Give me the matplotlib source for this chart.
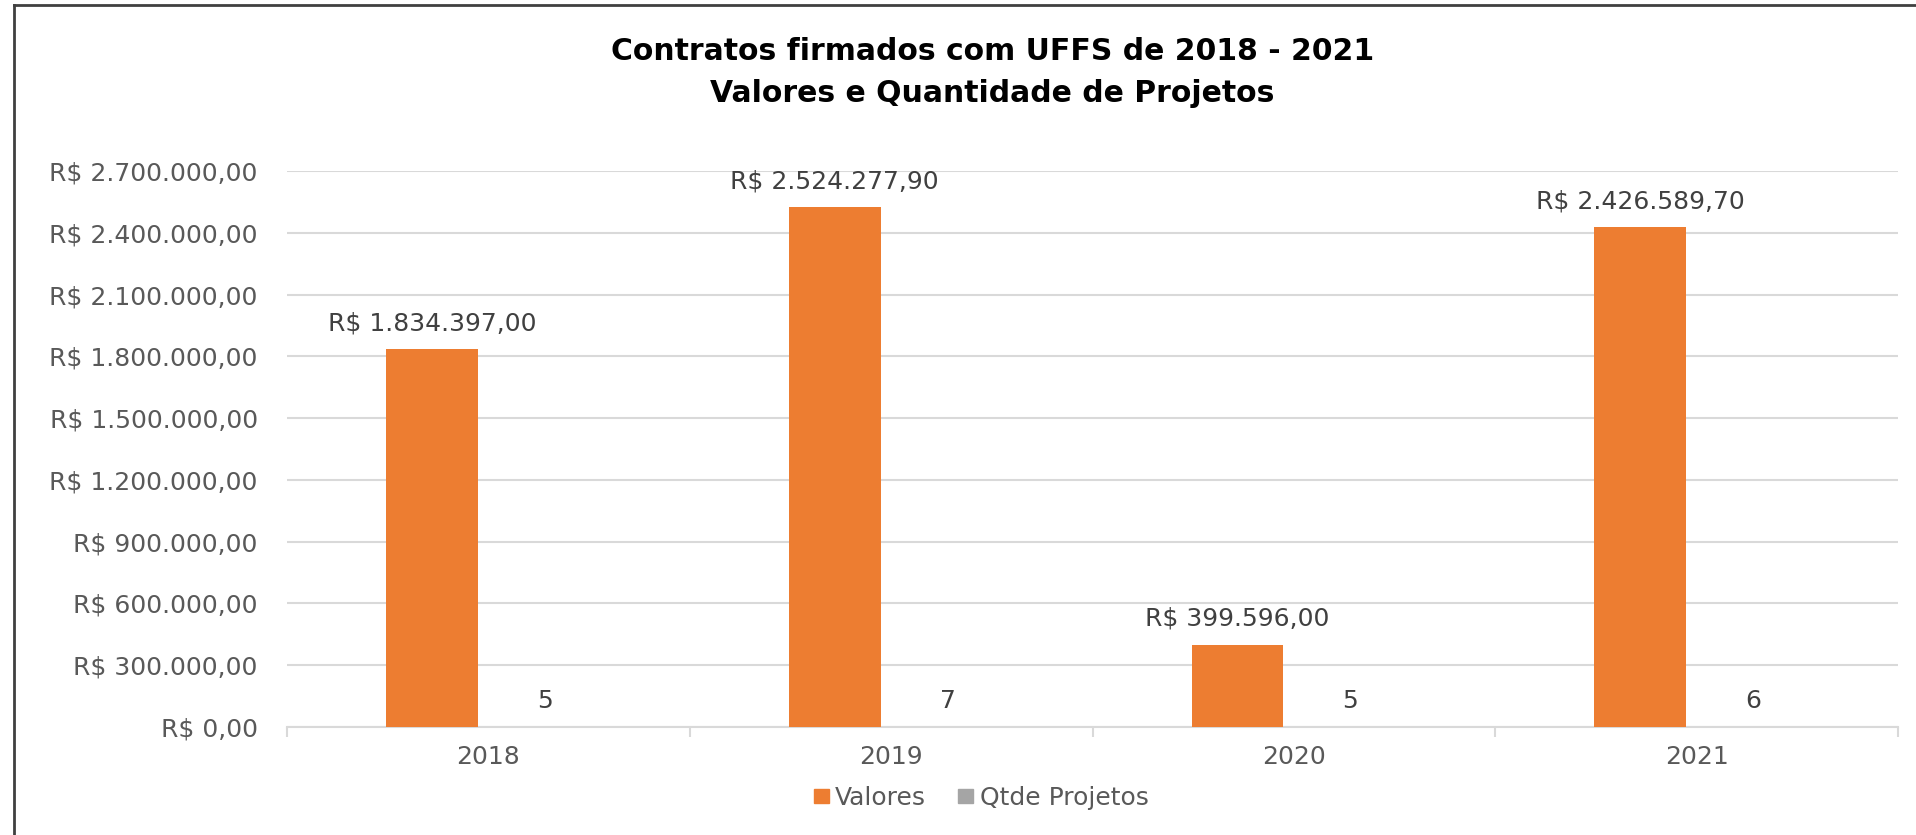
import numpy as np
import matplotlib.pyplot as plt
from matplotlib.patches import Patch
from matplotlib.lines import Line2D

#%% Dados
anos = ['2018', '2019', '2020', '2021']
valores = [1834397.00, 2524277.90, 399596.00, 2426589.70]
qtde_projetos = [5, 7, 5, 6]
y_ticks = [0, 300000, 600000, 900000, 1200000, 1500000, 1800000, 2100000, 2400000, 2700000]

laranja = '#ED7D31'
cinza = '#A5A5A5'
txt_cor = '#595959'
lbl_cor = '#404040'
fs = 18

def brl(v):
    s = '{:,.2f}'.format(v)
    s = s.replace(',', 'X').replace('.', ',').replace('X', '.')
    return 'R$ ' + s

#%% Figura
fig = plt.figure(figsize=(19.16, 8.35), dpi=100)
ax = fig.add_axes([287/1916, 1-727/835, (1898-287)/1916, (727-171)/835])

x = np.arange(len(anos))
w = 0.228 ; off = 0.14
ax.bar(x - off, valores, w, color=laranja, zorder=3)
ax.bar(x + off, qtde_projetos, w, color=cinza, zorder=3)

for i in range(len(anos)):
    ax.annotate(brl(valores[i]), (x[i] - off, valores[i]), xytext=(0, 26),
                textcoords='offset pixels', ha='center', va='center',
                fontsize=fs, color=lbl_cor)
    ax.annotate(str(qtde_projetos[i]), (x[i] + off, qtde_projetos[i]), xytext=(0, 26),
                textcoords='offset pixels', ha='center', va='center',
                fontsize=fs, color=lbl_cor)

ax.set_xlim(-0.5, len(anos) - 0.5)
ax.set_ylim(0, 2700000)
ax.set_yticks(y_ticks)
ax.set_yticklabels([brl(v) for v in y_ticks], fontsize=fs, color=txt_cor)
ax.set_xticks(x)
ax.set_xticklabels(anos, fontsize=fs, color=txt_cor)
ax.set_xticks(np.arange(-0.5, len(anos)), minor=True)
ax.tick_params(axis='y', length=0, pad=21)
ax.tick_params(axis='x', which='major', length=0, pad=13)
ax.tick_params(axis='x', which='minor', length=7, color='#D9D9D9', width=1.5)

ax.grid(axis='y', color='#D9D9D9', linewidth=1.5, zorder=0)
for s in ['top', 'right', 'left']:
    ax.spines[s].set_visible(False)
ax.spines['bottom'].set_color('#D9D9D9')
ax.spines['bottom'].set_linewidth(1.5)

fig.text(0.518, 1-52/835, 'Contratos firmados com UFFS de 2018 - 2021', ha='center', va='center',
         fontsize=21.5, fontweight='bold', color='black')
fig.text(0.518, 1-93/835, 'Valores e Quantidade de Projetos', ha='center', va='center',
         fontsize=21.5, fontweight='bold', color='black')

handles = [Patch(color=laranja, label='Valores'), Patch(color=cinza, label='Qtde Projetos')]
leg = fig.legend(handles=handles, loc='center', bbox_to_anchor=(0.512, 1-798/835), ncol=2,
                 frameon=False, fontsize=fs, handlelength=0.6, handleheight=0.5,
                 handletextpad=0.25, columnspacing=1.3)
for t in leg.get_texts():
    t.set_color(txt_cor)

# moldura
fig.add_artist(Line2D([14/1916, 14/1916], [0, 1-5/835], transform=fig.transFigure,
                      color='#404040', linewidth=2))
fig.add_artist(Line2D([14/1916, 1], [1-5/835, 1-5/835], transform=fig.transFigure,
                      color='#404040', linewidth=2))

plt.savefig('out.png', dpi=100)
